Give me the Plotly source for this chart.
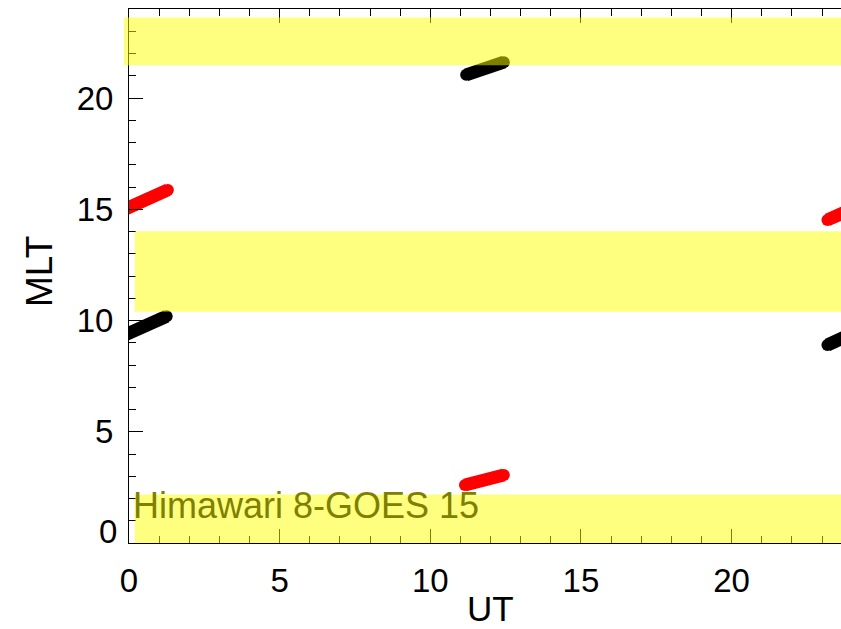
import plotly.graph_objects as go

# ---- data ----
# Black tracks (UT, MLT), centre line of each blob
black_ut_a = [-0.3, 0.15, 0.55, 0.95, 1.25]
black_mlt_a = [9.25, 9.53, 9.8, 10.02, 10.19]
black_ut_b = [11.19, 11.5, 11.8, 12.15, 12.44]
black_mlt_b = [21.04, 21.2, 21.35, 21.5, 21.61]
black_ut_c = [23.18, 23.45, 23.7, 24.0, 24.3]
black_mlt_c = [8.9, 9.1, 9.3, 9.45, 9.6]

# Red tracks (UT, MLT)
red_ut_a = [-0.3, 0.15, 0.6, 1.0, 1.29]
red_mlt_a = [14.9, 15.17, 15.45, 15.68, 15.87]
red_ut_b = [11.15, 11.45, 11.8, 12.15, 12.44]
red_mlt_b = [2.61, 2.73, 2.86, 2.97, 3.06]
red_ut_c = [23.18, 23.45, 23.7, 24.0, 24.3]
red_mlt_c = [14.52, 14.7, 14.88, 15.05, 15.2]

# Highlighted MLT bands
band_lo = [21.47, 10.39, -0.2]
band_hi = [23.62, 14.01, 2.18]
band_ut_start = [-0.17, 0.19, 0.19]
band_ut_end = [24.5, 24.5, 24.5]

ut_range = [0, 23.63]
mlt_range = [0, 24]
x_ticks = [0, 5, 10, 15, 20]
y_ticks = [0, 5, 10, 15, 20]
label_text = "Himawari 8-GOES 15"

FONT = "Liberation Sans, Arial, sans-serif"
FS = 33

fig = go.Figure()

def add_track(xs, ys, color):
    # thick line with round end caps (markers only at the two ends)
    fig.add_trace(go.Scatter(
        x=xs, y=ys, mode="lines+markers",
        line=dict(color=color, width=13),
        marker=dict(color=color, size=[12, 0, 0, 0, 12], opacity=1,
                    line=dict(width=0)),
        opacity=1, showlegend=False, hoverinfo="skip"))

for xs, ys in [(black_ut_a, black_mlt_a), (black_ut_b, black_mlt_b), (black_ut_c, black_mlt_c)]:
    add_track(xs, ys, "black")
for xs, ys in [(red_ut_a, red_mlt_a), (red_ut_b, red_mlt_b), (red_ut_c, red_mlt_c)]:
    add_track(xs, ys, "red")

span = ut_range[1] - ut_range[0]
for lo, hi, x0, x1 in zip(band_lo, band_hi, band_ut_start, band_ut_end):
    fig.add_shape(type="rect", xref="paper", yref="y",
                  x0=(x0 - ut_range[0]) / span, x1=(x1 - ut_range[0]) / span,
                  y0=lo, y1=hi, fillcolor="rgba(255,255,0,0.5)",
                  line=dict(width=0), layer="above")

fig.update_xaxes(
    range=ut_range, tickvals=x_ticks, ticktext=[str(v) for v in x_ticks],
    ticks="inside", ticklen=14, tickwidth=1, tickcolor="black",
    minor=dict(dtick=1, ticks="inside", ticklen=7, tickwidth=1, tickcolor="black"),
    showline=True, linecolor="black", linewidth=1, mirror="ticks",
    showgrid=False, zeroline=False,
    tickfont=dict(family=FONT, size=FS, color="black"), ticklabelstandoff=8)

fig.update_yaxes(
    range=mlt_range, tickvals=y_ticks,
    ticktext=["" if v == 0 else str(v) for v in y_ticks],
    ticks="inside", ticklen=14, tickwidth=1, tickcolor="black",
    minor=dict(dtick=1, ticks="inside", ticklen=7, tickwidth=1, tickcolor="black"),
    showline=True, linecolor="black", linewidth=1, mirror=False,
    showgrid=False, zeroline=False,
    tickfont=dict(family=FONT, size=FS, color="black"), ticklabelstandoff=8)

# y "0" label sits slightly above the axis corner
fig.add_annotation(xref="paper", yref="y", x=0, y=0, text=str(y_ticks[0]),
                   showarrow=False, xanchor="right", yanchor="middle",
                   xshift=-10, yshift=12,
                   font=dict(family=FONT, size=FS, color="black"))

# axis titles
fig.add_annotation(xref="paper", yref="paper", x=0, y=0, text="UT",
                   showarrow=False, xanchor="center", yanchor="middle",
                   xshift=361, yshift=-65,
                   font=dict(family=FONT, size=35, color="black"))
fig.add_annotation(xref="paper", yref="paper", x=0, y=0.5, text="MLT",
                   showarrow=False, xanchor="center", yanchor="middle",
                   textangle=-90, xshift=-90, yshift=4,
                   font=dict(family=FONT, size=37, color="black"))

# label inside lowest band
fig.add_annotation(xref="x", yref="y", x=band_ut_start[2], y=1.0, text=label_text,
                   showarrow=False, xanchor="left", yanchor="bottom",
                   xshift=-4, yshift=-7,
                   font=dict(family=FONT, size=36, color="rgb(128,128,0)"))

fig.update_layout(
    width=841, height=629,
    margin=dict(l=129, r=0, t=9, b=86),
    plot_bgcolor="white", paper_bgcolor="white",
    showlegend=False)

fig.write_html("out.html")
